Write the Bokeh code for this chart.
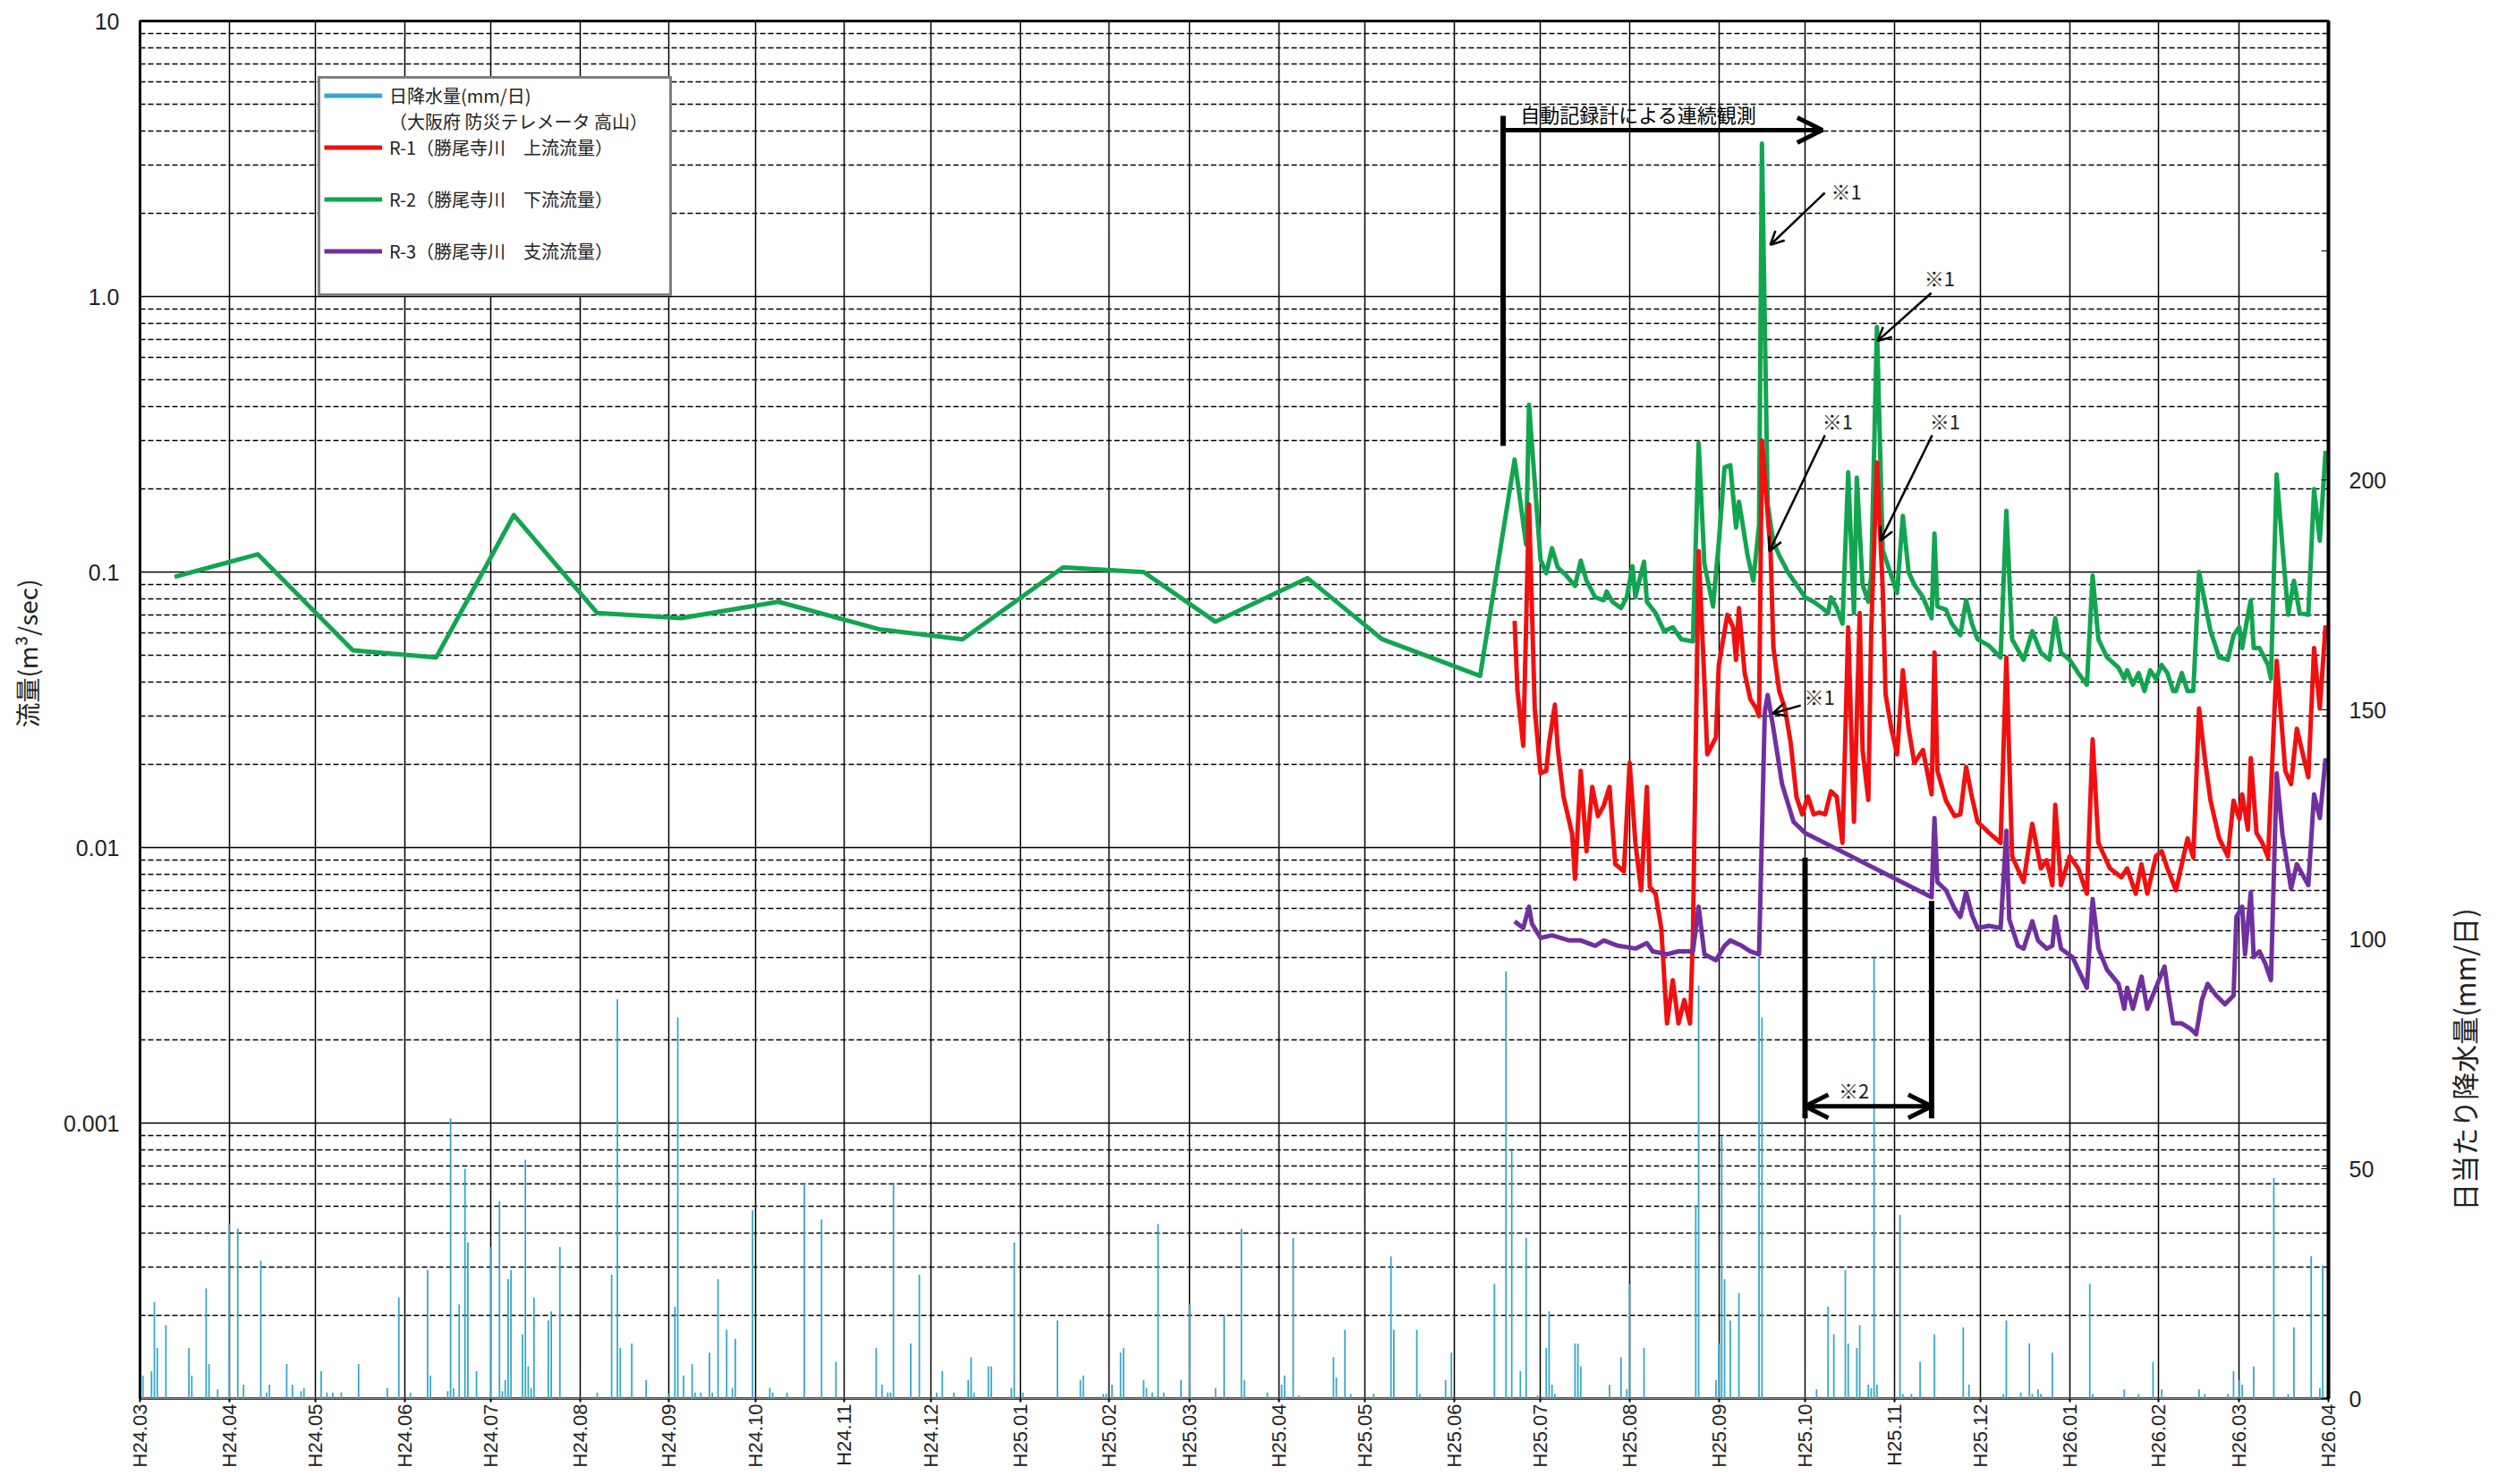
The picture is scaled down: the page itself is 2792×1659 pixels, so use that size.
import math
import pandas as pd
from bokeh.plotting import figure
from bokeh.models import (Range1d, LinearAxis, LinearScale, FixedTicker, Legend, LegendItem,
                          Arrow, OpenHead, Label)
from bokeh.embed import file_html
from bokeh.resources import INLINE

# ---------------- axis ticks / labels ----------------
month_starts = ["2012-03-01", "2012-04-01", "2012-05-01", "2012-06-01", "2012-07-01", "2012-08-01",
                "2012-09-01", "2012-10-01", "2012-11-01", "2012-12-01", "2013-01-01", "2013-02-01",
                "2013-03-01", "2013-04-01", "2013-05-01", "2013-06-01", "2013-07-01", "2013-08-01",
                "2013-09-01", "2013-10-01", "2013-11-01", "2013-12-01", "2014-01-01", "2014-02-01",
                "2014-03-01", "2014-04-01"]
month_labels = ["H24.03", "H24.04", "H24.05", "H24.06", "H24.07", "H24.08", "H24.09", "H24.10",
                "H24.11", "H24.12", "H25.01", "H25.02", "H25.03", "H25.04", "H25.05", "H25.06",
                "H25.07", "H25.08", "H25.09", "H25.10", "H25.11", "H25.12", "H26.01", "H26.02",
                "H26.03", "H26.04"]
flow_ticks = [0.0001, 0.001, 0.01, 0.1, 1, 10]
flow_tick_labels = ["", "0.001", "0.01", "0.1", "1.0", "10"]
rain_ticks = [0, 50, 100, 150, 200, 250]
rain_tick_labels = ["0", "50", "100", "150", "200", ""]
flow_axis_title = "流量(m³/sec)"
rain_axis_title = "日当たり降水量(mm/日)"

# ---------------- R-2 (downstream, green) ----------------
r2_dates = ["2012-03-13", "2012-04-11", "2012-05-14", "2012-06-12", "2012-07-09", "2012-08-07",
            "2012-09-05", "2012-10-09", "2012-11-13", "2012-12-12", "2013-01-16", "2013-02-13",
            "2013-03-10", "2013-04-11", "2013-05-07", "2013-06-10",
            "2013-06-22", "2013-06-26", "2013-06-27", "2013-07-01", "2013-07-03", "2013-07-05",
            "2013-07-07", "2013-07-10", "2013-07-13", "2013-07-15", "2013-07-17", "2013-07-20",
            "2013-07-23", "2013-07-24", "2013-07-26", "2013-07-29", "2013-07-31", "2013-08-02",
            "2013-08-03", "2013-08-04", "2013-08-06", "2013-08-07", "2013-08-10", "2013-08-13",
            "2013-08-16", "2013-08-19", "2013-08-23", "2013-08-25", "2013-08-27", "2013-08-30",
            "2013-09-01", "2013-09-03", "2013-09-05", "2013-09-07", "2013-09-08", "2013-09-09",
            "2013-09-11", "2013-09-13", "2013-09-15", "2013-09-16", "2013-09-18", "2013-09-20",
            "2013-09-22", "2013-09-25", "2013-09-28", "2013-10-01", "2013-10-04", "2013-10-07",
            "2013-10-09", "2013-10-10", "2013-10-12", "2013-10-14", "2013-10-16", "2013-10-18",
            "2013-10-19", "2013-10-21", "2013-10-23", "2013-10-24", "2013-10-26", "2013-10-28",
            "2013-10-31", "2013-11-02", "2013-11-04", "2013-11-06", "2013-11-08", "2013-11-11",
            "2013-11-14", "2013-11-15", "2013-11-16", "2013-11-19", "2013-11-21", "2013-11-24",
            "2013-11-26", "2013-11-28", "2013-11-30", "2013-12-04", "2013-12-08", "2013-12-10",
            "2013-12-12", "2013-12-16", "2013-12-19", "2013-12-22", "2013-12-25", "2013-12-27",
            "2013-12-29", "2014-01-01", "2014-01-04", "2014-01-07", "2014-01-09", "2014-01-11",
            "2014-01-14", "2014-01-18", "2014-01-20", "2014-01-21", "2014-01-23", "2014-01-25",
            "2014-01-27", "2014-01-29", "2014-01-31", "2014-02-02", "2014-02-04", "2014-02-06",
            "2014-02-07", "2014-02-09", "2014-02-11", "2014-02-13", "2014-02-15", "2014-02-17",
            "2014-02-19", "2014-02-22", "2014-02-25", "2014-02-27", "2014-03-01", "2014-03-02",
            "2014-03-04", "2014-03-05", "2014-03-06", "2014-03-08", "2014-03-11", "2014-03-12",
            "2014-03-14", "2014-03-16", "2014-03-18", "2014-03-20", "2014-03-22", "2014-03-25",
            "2014-03-27", "2014-03-29", "2014-03-31"]
r2_vals = [0.096, 0.116, 0.052, 0.049, 0.161, 0.071, 0.068, 0.078, 0.062, 0.057, 0.104, 0.100,
           0.066, 0.095, 0.057, 0.042,
           0.256, 0.126, 0.405, 0.111, 0.099, 0.122, 0.104, 0.097, 0.089, 0.110, 0.093, 0.081,
           0.079, 0.085, 0.078, 0.074, 0.081, 0.105, 0.081, 0.090, 0.109, 0.078, 0.071, 0.061,
           0.063, 0.057, 0.056, 0.294, 0.107, 0.075, 0.128, 0.240, 0.244, 0.145, 0.180, 0.156,
           0.115, 0.093, 0.148, 3.59, 0.176, 0.128, 0.115, 0.100, 0.090, 0.081, 0.078, 0.074,
           0.071, 0.081, 0.074, 0.065, 0.230, 0.071, 0.220, 0.090, 0.078, 0.097, 0.776, 0.120,
           0.097, 0.084, 0.160, 0.100, 0.090, 0.081, 0.068, 0.138, 0.075, 0.073, 0.065, 0.059,
           0.079, 0.065, 0.057, 0.054, 0.049, 0.167, 0.057, 0.048, 0.061, 0.051, 0.048, 0.068,
           0.051, 0.048, 0.043, 0.039, 0.097, 0.057, 0.049, 0.045, 0.041, 0.044, 0.039, 0.043,
           0.037, 0.044, 0.041, 0.046, 0.043, 0.037, 0.037, 0.043, 0.037, 0.037, 0.100, 0.078,
           0.061, 0.049, 0.048, 0.059, 0.063, 0.053, 0.070, 0.079, 0.053, 0.053, 0.046, 0.041,
           0.226, 0.124, 0.070, 0.093, 0.071, 0.070, 0.200, 0.130, 0.275]

# ---------------- R-1 (upstream, red) ----------------
r1_dates = ["2013-06-22", "2013-06-23", "2013-06-25", "2013-06-27", "2013-06-29", "2013-07-01",
            "2013-07-03", "2013-07-04", "2013-07-06", "2013-07-07", "2013-07-09", "2013-07-12",
            "2013-07-13", "2013-07-15", "2013-07-17", "2013-07-19", "2013-07-21", "2013-07-23",
            "2013-07-25", "2013-07-27", "2013-07-30", "2013-08-01", "2013-08-03", "2013-08-05",
            "2013-08-07", "2013-08-08", "2013-08-10", "2013-08-12", "2013-08-14", "2013-08-16",
            "2013-08-18", "2013-08-20", "2013-08-22", "2013-08-23", "2013-08-25", "2013-08-27",
            "2013-08-28", "2013-08-31", "2013-09-01", "2013-09-04", "2013-09-06", "2013-09-07",
            "2013-09-08", "2013-09-10", "2013-09-12", "2013-09-14", "2013-09-15", "2013-09-16",
            "2013-09-19", "2013-09-20", "2013-09-22", "2013-09-24", "2013-09-26", "2013-09-28",
            "2013-09-30", "2013-10-02", "2013-10-04", "2013-10-06", "2013-10-08", "2013-10-10",
            "2013-10-12", "2013-10-14", "2013-10-16", "2013-10-18", "2013-10-20", "2013-10-21",
            "2013-10-23", "2013-10-24", "2013-10-26", "2013-10-28", "2013-10-29", "2013-10-31",
            "2013-11-02", "2013-11-04", "2013-11-06", "2013-11-08", "2013-11-11", "2013-11-14",
            "2013-11-15", "2013-11-16", "2013-11-19", "2013-11-22", "2013-11-24", "2013-11-26",
            "2013-11-28", "2013-11-30", "2013-12-04", "2013-12-08", "2013-12-10", "2013-12-12",
            "2013-12-16", "2013-12-19", "2013-12-22", "2013-12-24", "2013-12-26", "2013-12-27",
            "2013-12-29", "2014-01-01", "2014-01-04", "2014-01-07", "2014-01-09", "2014-01-11",
            "2014-01-15", "2014-01-19", "2014-01-21", "2014-01-24", "2014-01-26", "2014-01-28",
            "2014-01-31", "2014-02-02", "2014-02-04", "2014-02-07", "2014-02-09", "2014-02-11",
            "2014-02-13", "2014-02-15", "2014-02-17", "2014-02-19", "2014-02-22", "2014-02-25",
            "2014-02-27", "2014-03-01", "2014-03-02", "2014-03-04", "2014-03-05", "2014-03-07",
            "2014-03-09", "2014-03-11", "2014-03-14", "2014-03-17", "2014-03-19", "2014-03-21",
            "2014-03-25", "2014-03-27", "2014-03-29", "2014-03-31"]
r1_vals = [0.0665, 0.037, 0.0234, 0.176, 0.032, 0.0186, 0.019, 0.024, 0.033, 0.023, 0.0153, 0.0112,
           0.0077, 0.019, 0.0097, 0.0166, 0.0130, 0.0142, 0.0166, 0.0087, 0.0082, 0.0203, 0.0104,
           0.0070, 0.0166, 0.0072, 0.0068, 0.0051, 0.0023, 0.0033, 0.0023, 0.0028, 0.0023, 0.0048,
           0.119, 0.040, 0.0218, 0.0251, 0.046, 0.070, 0.063, 0.048, 0.074, 0.043, 0.0345, 0.032,
           0.030, 0.30, 0.119, 0.053, 0.037, 0.032, 0.024, 0.0153, 0.0132, 0.0153, 0.0132, 0.0134,
           0.0132, 0.016, 0.0153, 0.0104, 0.063, 0.0124, 0.071, 0.0226, 0.0149, 0.061, 0.25, 0.087,
           0.036, 0.027, 0.0218, 0.044, 0.027, 0.0203, 0.0226, 0.0156, 0.051, 0.019, 0.0148, 0.0130,
           0.0132, 0.0196, 0.0153, 0.0124, 0.0113, 0.0104, 0.049, 0.0093, 0.0075, 0.0122, 0.0084,
           0.0090, 0.0073, 0.0143, 0.0073, 0.0093, 0.0084, 0.0068, 0.0247, 0.0104, 0.0084, 0.0078,
           0.0084, 0.0068, 0.0087, 0.0068, 0.0093, 0.0097, 0.0084, 0.0070, 0.0087, 0.0108, 0.0092,
           0.032, 0.0211, 0.0148, 0.0108, 0.0093, 0.0148, 0.0127, 0.0156, 0.0116, 0.0211, 0.0113,
           0.0104, 0.0092, 0.0476, 0.019, 0.017, 0.027, 0.018, 0.053, 0.032, 0.064]

# ---------------- R-3 (tributary, purple) ----------------
r3_dates = ["2013-06-22", "2013-06-25", "2013-06-27", "2013-06-28", "2013-07-01", "2013-07-05",
            "2013-07-11", "2013-07-15", "2013-07-20", "2013-07-23", "2013-07-28", "2013-08-03",
            "2013-08-07", "2013-08-09", "2013-08-14", "2013-08-18", "2013-08-23", "2013-08-25",
            "2013-08-27", "2013-08-31", "2013-09-03", "2013-09-05", "2013-09-09", "2013-09-12",
            "2013-09-15", "2013-09-17", "2013-09-18", "2013-09-20", "2013-09-23", "2013-09-27",
            "2013-10-01", "2013-11-14", "2013-11-15", "2013-11-16", "2013-11-19", "2013-11-22",
            "2013-11-24", "2013-11-26", "2013-11-28", "2013-11-30", "2013-12-04", "2013-12-08",
            "2013-12-10", "2013-12-11", "2013-12-14", "2013-12-16", "2013-12-19", "2013-12-21",
            "2013-12-24", "2013-12-26", "2013-12-27", "2013-12-29", "2014-01-02", "2014-01-04",
            "2014-01-07", "2014-01-09", "2014-01-11", "2014-01-14", "2014-01-18", "2014-01-20",
            "2014-01-21", "2014-01-23", "2014-01-26", "2014-01-28", "2014-01-31", "2014-02-03",
            "2014-02-04", "2014-02-06", "2014-02-09", "2014-02-12", "2014-02-14", "2014-02-16",
            "2014-02-18", "2014-02-21", "2014-02-24", "2014-02-27", "2014-02-28", "2014-03-02",
            "2014-03-03", "2014-03-05", "2014-03-06", "2014-03-08", "2014-03-10", "2014-03-12",
            "2014-03-14", "2014-03-16", "2014-03-19", "2014-03-21", "2014-03-25", "2014-03-27",
            "2014-03-29", "2014-03-31"]
r3_vals = [0.0054, 0.0051, 0.0061, 0.0053, 0.0047, 0.0048, 0.0046, 0.0046, 0.0044, 0.0046, 0.0044,
           0.0043, 0.0045, 0.0042, 0.0041, 0.0042, 0.0042, 0.0061, 0.0041, 0.0039, 0.0044, 0.0046,
           0.0044, 0.0042, 0.0041, 0.031, 0.0358, 0.027, 0.017, 0.0124, 0.0113, 0.0066, 0.0128,
           0.0075, 0.0070, 0.0060, 0.0056, 0.0069, 0.0057, 0.0051, 0.0052, 0.0051, 0.0115, 0.0055,
           0.0044, 0.0043, 0.0054, 0.0046, 0.0043, 0.0044, 0.0056, 0.0043, 0.0040, 0.0036, 0.0031,
           0.0065, 0.0043, 0.0036, 0.0032, 0.0026, 0.0031, 0.0026, 0.0034, 0.0026, 0.0031, 0.0037,
           0.0031, 0.0023, 0.0023, 0.0022, 0.0021, 0.0028, 0.0032, 0.0029, 0.0027, 0.0029, 0.0056,
           0.0061, 0.0041, 0.0069, 0.0040, 0.0042, 0.0038, 0.0033, 0.0186, 0.0112, 0.0071, 0.0087,
           0.0073, 0.0156, 0.0128, 0.0211]

# ---------------- daily rainfall (mm/day) ----------------
rain_dates = ["2012-03-02", "2012-03-05", "2012-03-06", "2012-03-07", "2012-03-10", "2012-03-18",
              "2012-03-19", "2012-03-24", "2012-03-25", "2012-03-28", "2012-04-01", "2012-04-04",
              "2012-04-06", "2012-04-12", "2012-04-14", "2012-04-15", "2012-04-21", "2012-04-23",
              "2012-04-26", "2012-04-27", "2012-05-03", "2012-05-05", "2012-05-07", "2012-05-10",
              "2012-05-16", "2012-05-26", "2012-05-30", "2012-06-03", "2012-06-09", "2012-06-10",
              "2012-06-16", "2012-06-17", "2012-06-18", "2012-06-20", "2012-06-22", "2012-06-23",
              "2012-06-26", "2012-07-01", "2012-07-04", "2012-07-05", "2012-07-06", "2012-07-07",
              "2012-07-08", "2012-07-12", "2012-07-13", "2012-07-14", "2012-07-15", "2012-07-16",
              "2012-07-21", "2012-07-22", "2012-07-25", "2012-08-07", "2012-08-12", "2012-08-14",
              "2012-08-15", "2012-08-19", "2012-08-24", "2012-09-01", "2012-09-03", "2012-09-04",
              "2012-09-06", "2012-09-09", "2012-09-10", "2012-09-12", "2012-09-15", "2012-09-16",
              "2012-09-18", "2012-09-21", "2012-09-23", "2012-09-24", "2012-09-30", "2012-10-06",
              "2012-10-07", "2012-10-12", "2012-10-18", "2012-10-24", "2012-10-29", "2012-11-12",
              "2012-11-14", "2012-11-16", "2012-11-17", "2012-11-18", "2012-11-24", "2012-11-27",
              "2012-12-03", "2012-12-05", "2012-12-09", "2012-12-14", "2012-12-15", "2012-12-16",
              "2012-12-21", "2012-12-22", "2012-12-29", "2012-12-30", "2013-01-02", "2013-01-14",
              "2013-01-22", "2013-01-23", "2013-01-30", "2013-01-31", "2013-02-02", "2013-02-05",
              "2013-02-06", "2013-02-13", "2013-02-14", "2013-02-16", "2013-02-18", "2013-02-20",
              "2013-02-26", "2013-03-01", "2013-03-10", "2013-03-13", "2013-03-19", "2013-03-20",
              "2013-03-28", "2013-04-02", "2013-04-03", "2013-04-06", "2013-04-08", "2013-04-20",
              "2013-04-21", "2013-04-24", "2013-04-26", "2013-05-04", "2013-05-10", "2013-05-11",
              "2013-05-19", "2013-05-20", "2013-05-29", "2013-05-31", "2013-06-15", "2013-06-19",
              "2013-06-21", "2013-06-24", "2013-06-26", "2013-06-30", "2013-07-03", "2013-07-04",
              "2013-07-05", "2013-07-06", "2013-07-13", "2013-07-14", "2013-07-15", "2013-07-25",
              "2013-07-29", "2013-07-31", "2013-08-01", "2013-08-06", "2013-08-24", "2013-08-25",
              "2013-08-31", "2013-09-01", "2013-09-02", "2013-09-03", "2013-09-05", "2013-09-08",
              "2013-09-15", "2013-09-16", "2013-10-05", "2013-10-09", "2013-10-11", "2013-10-15",
              "2013-10-16", "2013-10-19", "2013-10-20", "2013-10-23", "2013-10-24", "2013-10-25",
              "2013-10-26", "2013-11-03", "2013-11-04", "2013-11-07", "2013-11-10", "2013-11-15",
              "2013-11-25", "2013-11-27", "2013-12-09", "2013-12-10", "2013-12-15", "2013-12-18",
              "2013-12-19", "2013-12-21", "2013-12-22", "2013-12-26", "2014-01-08", "2014-01-09",
              "2014-01-20", "2014-01-25", "2014-01-30", "2014-02-02", "2014-02-15", "2014-02-17",
              "2014-02-25", "2014-02-27", "2014-03-01", "2014-03-02", "2014-03-06", "2014-03-13",
              "2014-03-18", "2014-03-20", "2014-03-26", "2014-03-29", "2014-03-30"]
rain_mm = [5, 6, 21, 11, 16, 11, 5, 24, 7.5, 2, 38, 37, 3, 30, 1.3, 3, 7.5, 3, 1.6, 2.3,
           6, 1.3, 1.3, 1.3, 7.5, 2.3, 22, 1.3, 28, 5, 1.6, 61, 2.3, 20.5, 50, 34, 6,
           33, 43, 1.6, 4, 26, 28, 14, 52, 7, 2.3, 22, 17, 19, 33, 1.3, 27, 87, 11, 12, 4,
           1, 20, 83, 5, 7.5, 1.3, 1.3, 10, 1.3, 26, 15, 2.3, 13, 41, 2.3, 1.3, 1.3, 47, 39, 8,
           11, 3, 1.3, 1.3, 47, 12, 27, 1.3, 6, 1.3, 4, 9, 1.3, 7, 7, 2.3, 34,
           1.3, 17, 4, 5, 1, 1, 3, 10, 11, 4, 2.3, 1.3, 38, 1.3, 4, 20.5, 2.3, 18, 37, 4, 1.3,
           3, 5, 35, 0.7, 9, 4.6, 15, 1, 1, 31, 15, 15, 1, 4, 10, 25, 93, 54, 6, 35, 0.7,
           11, 19, 3, 1, 12, 12, 7, 3, 9, 2, 25, 11, 42, 90, 4, 12, 57, 26, 17, 23, 97, 83,
           2, 20, 14, 28, 12, 11, 16, 3, 2.3, 96, 3, 40, 1, 1, 8, 14, 15.5, 3,
           1, 17, 1.3, 12, 1, 2, 1, 10, 25, 1, 2, 1, 8, 2, 2, 1, 1, 6, 4, 3, 7, 48, 1, 15.5,
           31, 2.3, 29]

# ---------------- annotations ----------------
obs_x = "2013-06-18"
obs_y = [0.287, 4.53]
obs_arrow = [("2013-06-18", 4.02), ("2013-10-07", 4.02)]
obs_text = ("2013-06-24", 4.62, "自動記録計による連続観測")

gap_x = ["2013-10-01", "2013-11-14"]
gap_top = [0.0092, 0.0064]
gap_bottom = 0.00104
gap_arrow_y = 0.00115
gap_text = ("2013-10-18", 0.00132, "※2")

note_text_x = ["2013-10-10", "2013-11-11 10:00", "2013-10-07", "2013-11-13 07:00", "2013-09-30 17:00"]
note_text_y = [2.43, 1.17, 0.354, 0.354, 0.0354]
note_tail_x = ["2013-10-07 21:00", "2013-11-13 22:00", "2013-10-07 22:00", "2013-11-14 05:00", "2013-09-29 12:00"]
note_tail_y = [2.38, 1.03, 0.314, 0.314, 0.0328]
note_head_x = ["2013-09-18 22:00", "2013-10-26 05:00", "2013-09-18 14:00", "2013-10-27 05:00", "2013-09-19 19:00"]
note_head_y = [1.54, 0.69, 0.119, 0.13, 0.0307]

# ---------------- colours ----------------
RAIN = "#33A6CC"
RED = "#F01010"
GREEN = "#12A550"
PURPLE = "#7030A0"
CJK = "Noto Sans CJK JP"
NUM = "Liberation Sans"
LW = 5


def ms(s):
    return pd.Timestamp(s).value // 10**6


p = figure(width=2776, height=1643, x_axis_type="datetime", y_axis_type="log",
           x_range=Range1d(ms(month_starts[0]), ms(month_starts[-1])),
           y_range=Range1d(flow_ticks[0], flow_ticks[-1]),
           output_backend="svg", toolbar_location=None,
           min_border_left=156, min_border_right=174, min_border_top=23, min_border_bottom=78)
p.background_fill_color = "white"
p.border_fill_color = "white"
p.outline_line_color = "black"
p.outline_line_width = 3

p.extra_y_ranges = {"rain": Range1d(0, 300)}
p.extra_y_scales = {"rain": LinearScale()}

# x axis
xt = FixedTicker(ticks=[ms(d) for d in month_starts])
xax = p.xaxis[0]
xax.ticker = xt
xax.major_label_overrides = {ms(d): lab for d, lab in zip(month_starts, month_labels)}
xax.major_label_orientation = math.pi / 2
xax.major_label_text_font = NUM
xax.major_label_text_font_size = "22px"
xax.major_label_text_color = "#222222"
xax.major_label_standoff = 2
xax.major_tick_out = 4
xax.major_tick_in = 0
xax.major_tick_line_color = "black"
xax.major_tick_line_width = 2
xax.minor_tick_line_color = None
xax.axis_line_color = "#8a8a8a"
xax.axis_line_width = 2
p.xgrid.ticker = xt
p.xgrid.grid_line_color = "black"
p.xgrid.grid_line_width = 1.5

# left (flow) axis
minor = [k * 10.0 ** e for e in range(-4, 1) for k in range(2, 10)]
yt = FixedTicker(ticks=flow_ticks, minor_ticks=minor)
yax = p.yaxis[0]
yax.ticker = yt
yax.major_label_overrides = {t: lab for t, lab in zip(flow_ticks, flow_tick_labels)}
yax.major_label_text_font = NUM
yax.major_label_text_font_size = "25px"
yax.major_label_text_color = "#222222"
yax.major_label_standoff = 17
yax.major_tick_line_color = None
yax.minor_tick_line_color = None
yax.axis_line_color = "black"
yax.axis_line_width = 3
p.ygrid.ticker = yt
p.ygrid.grid_line_color = "black"
p.ygrid.grid_line_width = 1.6
p.ygrid.minor_grid_line_color = "black"
p.ygrid.minor_grid_line_width = 1.4
p.ygrid.minor_grid_line_dash = "6 3"

# left title, reading bottom-to-top, placed in the left side panel
p.add_layout(Label(x=2, y=833, x_units="screen", y_units="screen", text=flow_axis_title,
                   angle=math.pi / 2, text_align="center", text_baseline="middle",
                   text_font=CJK, text_font_size="28px", text_color="#222222"), "left")

# right (rain) axis
rax = LinearAxis(y_range_name="rain", ticker=FixedTicker(ticks=rain_ticks))
rax.major_label_overrides = {t: lab for t, lab in zip(rain_ticks, rain_tick_labels)}
rax.major_label_text_font = NUM
rax.major_label_text_font_size = "25px"
rax.major_label_text_color = "#222222"
rax.major_label_standoff = 23
rax.major_tick_in = 8
rax.major_tick_out = 0
rax.major_tick_line_color = "black"
rax.minor_tick_line_color = None
rax.axis_line_color = "black"
rax.axis_line_width = 4
p.add_layout(rax, "right")

# right title, reading bottom-to-top, placed in the right side panel
p.add_layout(Label(x=83, y=379, x_units="screen", y_units="screen", text=rain_axis_title,
                   angle=math.pi / 2, text_align="center", text_baseline="middle",
                   text_font=CJK, text_font_size="31px", text_color="#222222"), "right")

# rainfall bars
p.vbar(x=pd.to_datetime(rain_dates), top=rain_mm, bottom=0, width=0.55 * 86400000,
       y_range_name="rain", fill_color=RAIN, line_color=None)

# flow lines
g = p.line(pd.to_datetime(r2_dates), r2_vals, line_color=GREEN, line_width=LW, line_join="round")
r = p.line(pd.to_datetime(r1_dates), r1_vals, line_color=RED, line_width=LW, line_join="round")
v = p.line(pd.to_datetime(r3_dates), r3_vals, line_color=PURPLE, line_width=LW, line_join="round")

# continuous-observation marker
p.segment(x0=pd.to_datetime([obs_x]), y0=[obs_y[0]], x1=pd.to_datetime([obs_x]), y1=[obs_y[1]],
          line_color="black", line_width=6)
p.add_layout(Arrow(x_start=ms(obs_arrow[0][0]), y_start=obs_arrow[0][1],
                   x_end=ms(obs_arrow[1][0]), y_end=obs_arrow[1][1],
                   line_width=5, line_color="black",
                   end=OpenHead(size=28, line_width=5, line_color="black")))
p.add_layout(Label(x=ms(obs_text[0]), y=obs_text[1], text=obs_text[2], text_font=CJK,
                   text_font_size="22px", text_baseline="middle", text_align="left",
                   text_color="black"))

# ※2 missing-data span
p.segment(x0=pd.to_datetime(gap_x), y0=gap_top, x1=pd.to_datetime(gap_x),
          y1=[gap_bottom, gap_bottom], line_color="black", line_width=6)
p.add_layout(Arrow(x_start=ms(gap_x[0]), y_start=gap_arrow_y, x_end=ms(gap_x[1]), y_end=gap_arrow_y,
                   line_width=5, line_color="black",
                   start=OpenHead(size=26, line_width=5, line_color="black"),
                   end=OpenHead(size=26, line_width=5, line_color="black")))
p.add_layout(Label(x=ms(gap_text[0]), y=gap_text[1], text=gap_text[2], text_font=CJK,
                   text_font_size="22px", text_baseline="middle", text_align="center",
                   text_color="#222222"))

# ※1 notes
for tx, ty, ax0, ay0, ax1, ay1 in zip(note_text_x, note_text_y, note_tail_x, note_tail_y,
                                      note_head_x, note_head_y):
    p.add_layout(Label(x=ms(tx), y=ty, text="※1", text_font=CJK, text_font_size="22px",
                       text_baseline="middle", text_align="left", text_color="#222222"))
    p.add_layout(Arrow(x_start=ms(ax0), y_start=ay0, x_end=ms(ax1), y_end=ay1,
                       line_width=2.5, line_color="black",
                       end=OpenHead(size=15, line_width=2.5, line_color="black")))

# legend (rain swatch is a line proxy kept below the visible rain range)
rain_leg = p.line(pd.to_datetime(rain_dates[:2]), [-10, -10], y_range_name="rain",
                  line_color=RAIN, line_width=LW)
blank1 = p.line([], [], line_alpha=0)
blank2 = p.line([], [], line_alpha=0)
blank3 = p.line([], [], line_alpha=0)
blank4 = p.line([], [], line_alpha=0)
legend = Legend(items=[
    LegendItem(label="日降水量(mm/日)", renderers=[rain_leg]),
    LegendItem(label="（大阪府 防災テレメータ 高山）", renderers=[blank1]),
    LegendItem(label="R-1（勝尾寺川　上流流量）", renderers=[r]),
    LegendItem(label=" ", renderers=[blank2]),
    LegendItem(label="R-2（勝尾寺川　下流流量）", renderers=[g]),
    LegendItem(label=" ", renderers=[blank3]),
    LegendItem(label="R-3（勝尾寺川　支流流量）", renderers=[v]),
    LegendItem(label=" ", renderers=[blank4]),
], location=(199, 1232), padding=4, spacing=0, margin=0,
    label_height=29, glyph_height=29, glyph_width=65, label_standoff=8, label_width=309,
    label_text_font=CJK, label_text_font_size="20px", label_text_color="#222222",
    border_line_color="black", border_line_width=3, background_fill_color="white",
    background_fill_alpha=1.0)
p.add_layout(legend)

open("out.html", "w").write(file_html(p, INLINE))
